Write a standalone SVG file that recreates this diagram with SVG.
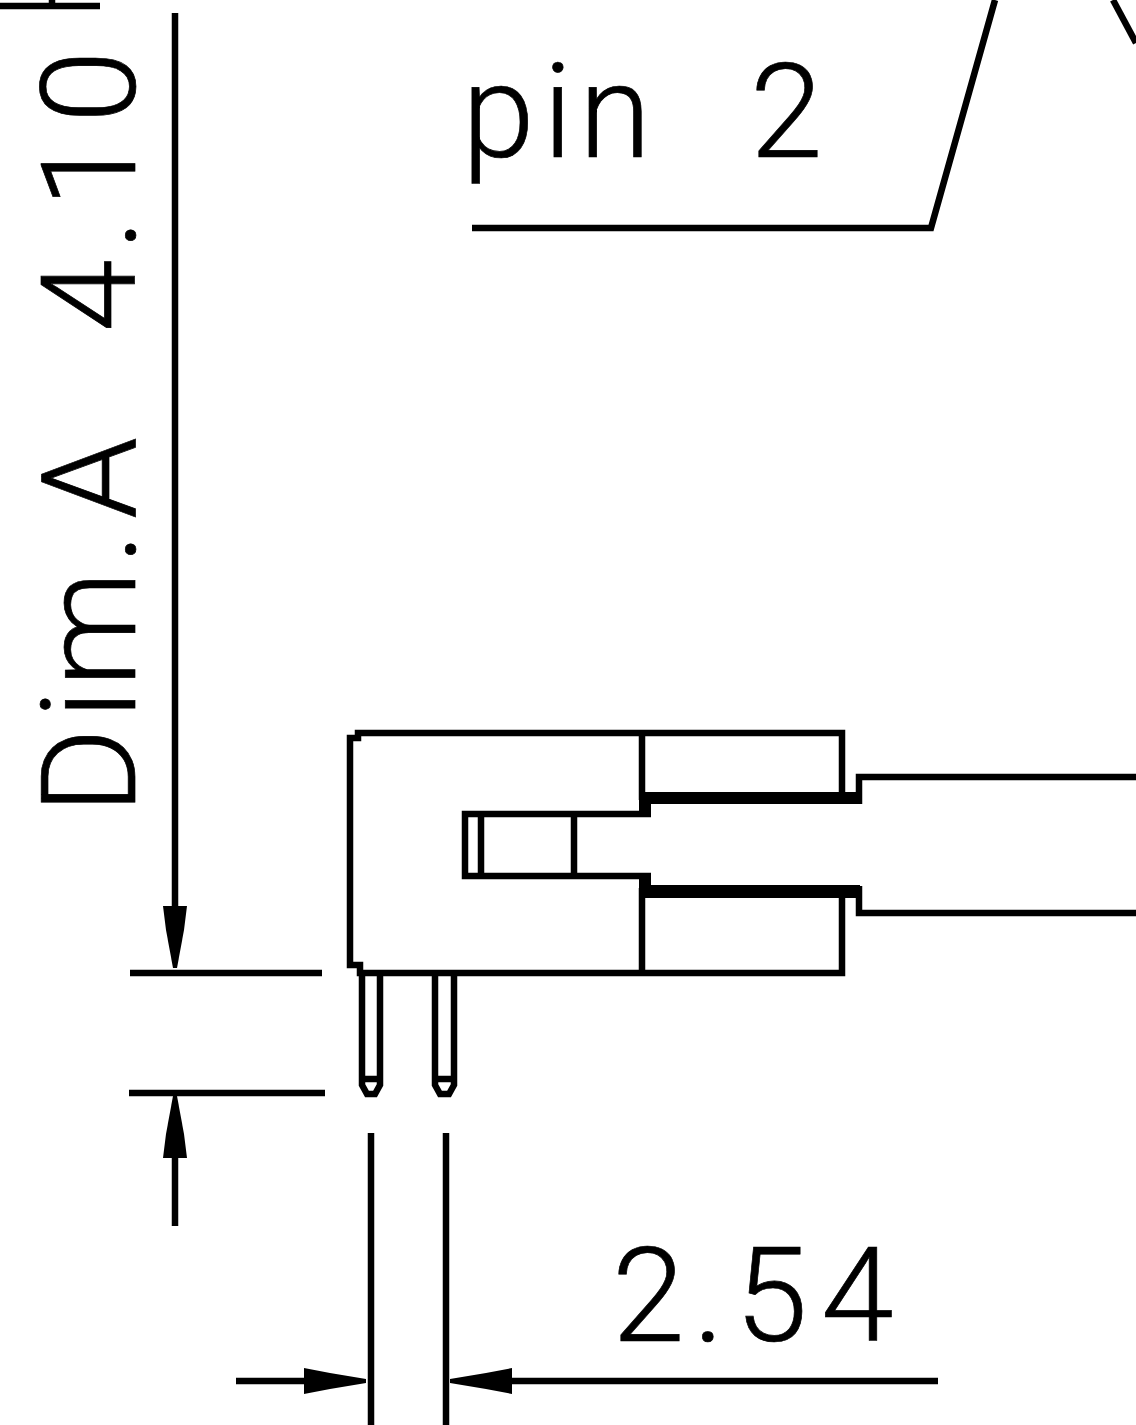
<svg xmlns="http://www.w3.org/2000/svg" width="1136" height="1425" viewBox="0 0 1136 1425">
<style>
.l{fill:none;stroke:#000;stroke-width:6.5;stroke-linejoin:miter}
.h{fill:#000;stroke:none}
.t{font-family:"Roboto",sans-serif;font-weight:300;font-size:131px;fill:#000;stroke:#000;stroke-width:.7}
</style>
<rect width="1136" height="1425" fill="#fff"/>
<g id="connectors">
<path class="l" d="M0 6H100M52 0V3"/>
<path class="l" d="M175 13V920"/>
<path class="h" d="M163 906H187L184 930L177 968H173L166 930Z"/>
<path class="l" d="M130 973H322"/>
<path class="l" d="M129 1093H325"/>
<path class="h" d="M173 1096H177L184 1134L187 1158H163L166 1134Z"/>
<path class="l" d="M175 1150V1226"/>
<path class="l" d="M371 1133V1425"/>
<path class="l" d="M446 1133V1425"/>
<path class="l" d="M236 1381H320"/>
<path class="h" d="M304 1368L330 1373L366 1379V1383L330 1389L304 1394Z"/>
<path class="l" d="M500 1381H938"/>
<path class="h" d="M512 1368L486 1373L450 1379V1383L486 1389L512 1394Z"/>
<path class="l" d="M472 228H931L995 0"/>
<path class="l" d="M1113 0L1136 43"/>
</g>
<g id="connector-body">
<path class="l" d="M842 804V733H358V738H350V965H360V973H842V892"/>
<path class="l" d="M642 733V800M642 973V888"/>
<path class="l" d="M651 814H465V876H651"/>
<path class="l" d="M481 814V876M574 814V876"/>
<path class="h" d="M644 792H862V804H644ZM644 885H860V898H644Z"/>
<path class="h" d="M639 796H651V817H639ZM639 873H651V895H639Z"/>
<path class="l" d="M1136 777H859V804M1136 913H859V886"/>
</g>
<g id="pins">
<path class="l" d="M362 973V1085L367 1094H375L380 1085V973M362 1079H380"/>
<path class="l" d="M435 973V1085L440 1094H449L454 1085V973M435 1079H454"/>
</g>
<g id="labels">
<text class="t" y="157" xml:space="preserve" x="462 543 579 640 690 750">pin  2</text>
<text class="t" y="1341" x="612 693 735 821">2.54</text>
<text class="t" transform="translate(135 802) rotate(-90)" xml:space="preserve" y="0" x="-12 83 115 238 283 360 400 470 552 594 679">Dim.A  4.10</text>
</g>
</svg>
